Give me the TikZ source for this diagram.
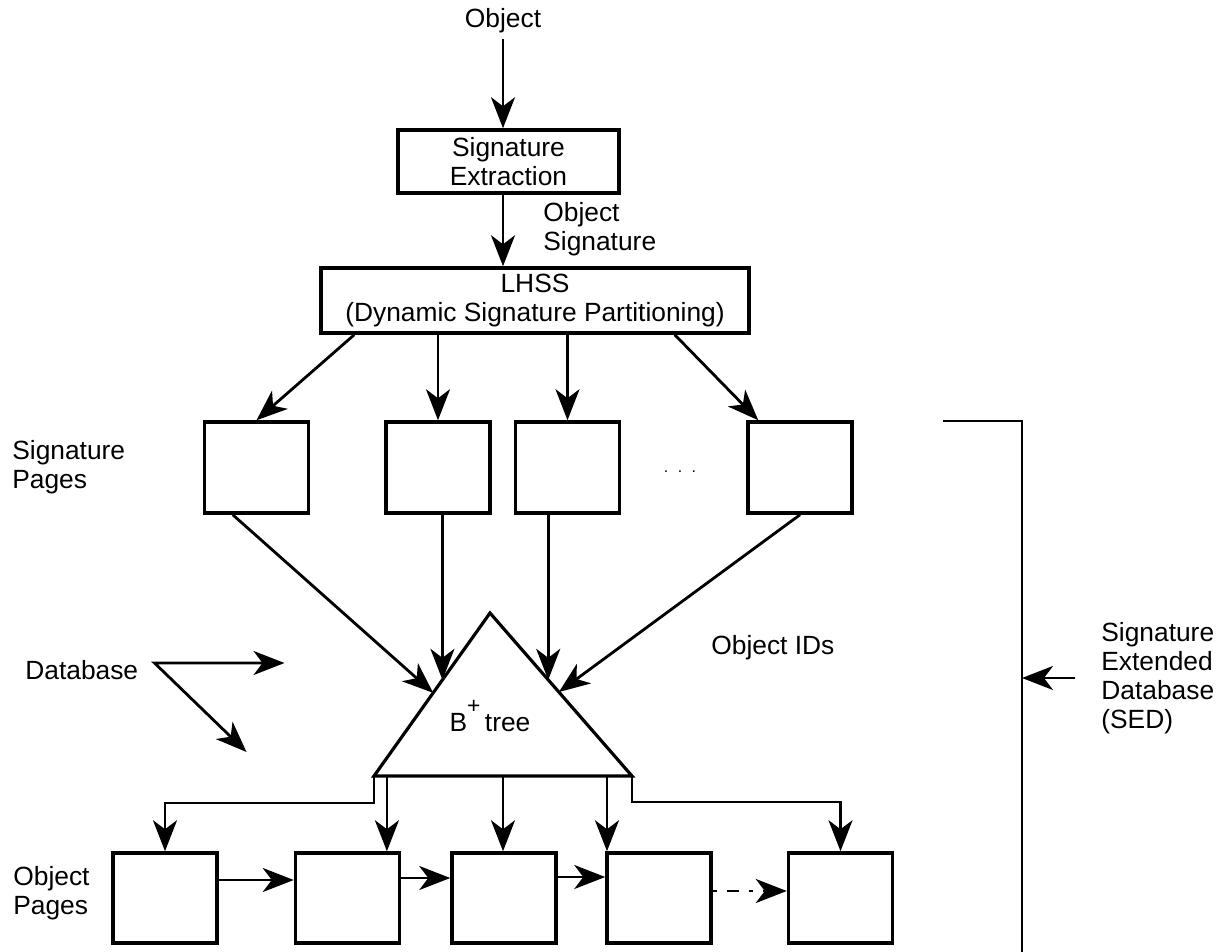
\documentclass[tikz,border=0pt]{standalone}
\usepackage{fontspec}
\setmainfont{Liberation Sans}
\usetikzlibrary{arrows.meta,calc}

\tikzset{
	page/.style={draw, line width=2pt, minimum width=2.08cm, minimum height=1.8cm, inner sep=0pt},
	proc/.style={draw, line width=2pt, align=center, inner sep=0pt},
	lbl/.style={align=left, inner sep=0pt},
	wire/.style={line width=1.6pt},
	flow/.style={wire, ->},
}

\begin{document}
\begin{tikzpicture}[x=0.02cm, y=-0.02cm, font=\fontsize{15}{16.4}\selectfont,
		>={Stealth[length=0.62cm, width=0.48cm, inset=0.18cm]}]
			\useasboundingbox (0,0) rectangle (1230,952);
			\node (input) at (503,21) {Object};
			\node[proc, minimum width=4.42cm, minimum height=1.26cm] (sigext) at (508.5,161.5) {Signature\\Extraction};
			\node[lbl, anchor=west] (osig) at (543,229) {Object\\Signature};
			\node[proc, minimum width=8.56cm, minimum height=1.3cm] (lhss) at (535,300.5) {LHSS\\(Dynamic Signature Partitioning)};
			\draw[flow] (input.south) -- (input |- sigext.north);
			\draw[flow] (input |- sigext.south) -- (input |- lhss.north);
			\node[lbl, anchor=west] (sppl) at (12,467) {Signature\\Pages};
			\node[page, minimum height=1.82cm] (sp1) at (256.5,467.5) {};
			\node[page, minimum height=1.82cm] (sp2) at (438,467.5) {};
			\node[page, minimum height=1.82cm] (sp3) at (567.5,467.5) {};
			\node[page, minimum height=1.82cm] (sp4) at (800,467.5) {};
			\node[font=\small] (dots) at (680,472) {.\hspace{0.6em}.\hspace{0.6em}.};
			\draw[flow] ([xshift=0.7cm]lhss.south west) -- (sp1.north);
			\draw[flow] (lhss.south -| sp2.north) -- (sp2.north);
			\draw[flow] (lhss.south -| sp3.north) -- (sp3.north);
			\draw[flow] ([xshift=-1.52cm]lhss.south east) -- ([xshift=0.24cm]sp4.north west);
			\coordinate (apex) at (490,613);
			\coordinate (bl) at (374,776);
			\coordinate (br) at (632,776);
			\draw[wire, line width=1.8pt] (apex) -- (bl) -- (br) -- cycle;
			\node (btree) at (490,716) {B\raisebox{0.7em}{\fontsize{13}{13}\selectfont +}\,tree};
			\coordinate (t1) at ($(apex)!0.49!(bl)$);
			\coordinate (t2) at ($(apex)!0.41!(bl)$);
			\coordinate (t3) at ($(apex)!0.41!(br)$);
			\coordinate (t4) at ($(apex)!0.485!(br)$);
			\draw[flow] ([xshift=0.6cm]sp1.south west) -- (t1);
			\draw[flow] (t2 |- sp2.south) -- (t2);
			\draw[flow] (t3 |- sp3.south) -- (t3);
			\draw[flow] (sp4.south) -- (t4);
			\node[lbl, anchor=west] (oids) at (711,648) {Object IDs};
			\node[lbl, anchor=west] (dbl) at (25,670) {Database};
			\coordinate (dbo) at ([shift={(0.32cm,0.14cm)}]dbl.east);
			\draw[wire, <->] ($(dbo)+(130,0)$) -- (dbo) -- ++(92,89);
			\node[lbl, anchor=west] (oppl) at (13,893) {Object\\Pages};
			\node[page] (op1) at (165,898) {};
			\node[page] (op2) at (347.5,898) {};
			\node[page] (op3) at (504,898) {};
			\node[page] (op4) at (659,898) {};
			\node[page] (op5) at (840.5,898) {};
			\coordinate (b2) at ($(bl)!0.05!(br)$);
			\coordinate (b3) at ($(bl)!0.5!(br)$);
			\coordinate (b4) at ($(bl)!0.903!(br)$);
			\draw[flow] (bl) -- ++(0,27) -| (op1.north);
			\draw[flow] (b2) -- (b2 |- op2.north);
			\draw[flow] (b3) -- (b3 |- op3.north);
			\draw[flow] (b4) -- (b4 |- op4.north);
			\draw[flow] (br) -- ++(0,26) -| (op5.north);
			\draw[flow] ([yshift=0.36cm]op1.east) -- ([yshift=0.36cm]op2.west);
			\draw[flow] ([yshift=0.4cm]op2.east) -- ([yshift=0.4cm]op3.west);
			\draw[flow] ([yshift=0.42cm]op3.east) -- ([yshift=0.42cm]op4.west);
			\draw[flow, dash pattern={on 0.08cm off 0.2cm on 0.24cm off 0.2cm}] ([yshift=0.14cm]op4.east) -- ([yshift=0.14cm]op5.west);
			\node[lbl, anchor=west] (sedl) at (1101,678) {Signature\\Extended\\Database\\(SED)};
			\coordinate (brk) at (1022,421);
			\draw[wire] (943,421) -- (brk) -- (1022,952);
			\draw[flow] ([xshift=-0.52cm]sedl.west) -- (sedl.west -| brk);
			\end{tikzpicture}
\end{document}
